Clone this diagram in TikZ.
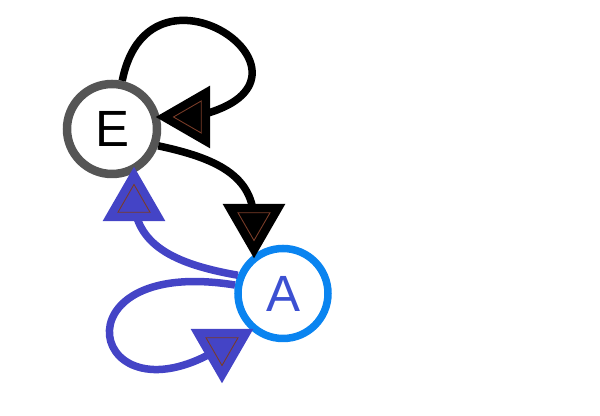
\documentclass[tikz,border=0pt]{standalone}
\usepackage{fontspec}
\setmainfont{Liberation Sans}
\usetikzlibrary{shapes.geometric}
\definecolor{stgray}{HTML}{555555}
\definecolor{stblue}{HTML}{0A84F0}
\definecolor{edblue}{HTML}{4444C6}
\definecolor{txblue}{HTML}{3C50D2}
\definecolor{tipline}{HTML}{7A3C28}
\begin{document}
\begin{tikzpicture}[
  state/.style={circle, inner sep=0pt, minimum size=1.8cm, font=\fontsize{29}{29}\selectfont},
  head/.style={regular polygon, regular polygon sides=3, inner sep=0pt, minimum size=1.45cm},
  headin/.style={regular polygon, regular polygon sides=3, inner sep=0pt, minimum size=0.74cm, draw=tipline, line width=0.5pt},
  edge/.style={line width=0.15cm}
]
\useasboundingbox (0,0) rectangle (12,8.32);

% States
\node[state, draw=stgray, line width=0.17cm] (E) at (2.24,5.74) {E};
\node[state, draw=stblue, line width=0.15cm, text=txblue] (A) at (5.66,2.45) {A};

% Arrow heads (centres)
\coordinate (hEE) at (3.84,5.98);
\coordinate (hEA) at (5.08,3.88);
\coordinate (hAE) at (2.68,4.26);
\coordinate (hAA) at (4.44,1.38);

% Black edges
\draw[edge, black] (E.78) .. controls (3.00,9.52) and (7.00,6.62) .. (hEE);
\draw[edge, black] (E.-20) .. controls (4.30,5.16) and (5.08,4.82) .. (hEA);

% Blue edges
\draw[edge, edblue] (A.158) .. controls (3.60,3.02) and (2.76,3.36) .. (hAE);
\draw[edge, edblue] (A.170) .. controls (1.00,3.22) and (1.80,-0.28) .. (hAA);

% Heads
\node[head, fill=black, rotate=90] at (hEE) {};
\node[headin, rotate=90] at (hEE) {};
\node[head, fill=black, rotate=180] at (hEA) {};
\node[headin, rotate=180] at (hEA) {};
\node[head, fill=edblue] at (hAE) {};
\node[headin] at (hAE) {};
\node[head, fill=edblue, rotate=180] at (hAA) {};
\node[headin, rotate=180] at (hAA) {};

\end{tikzpicture}
\end{document}
